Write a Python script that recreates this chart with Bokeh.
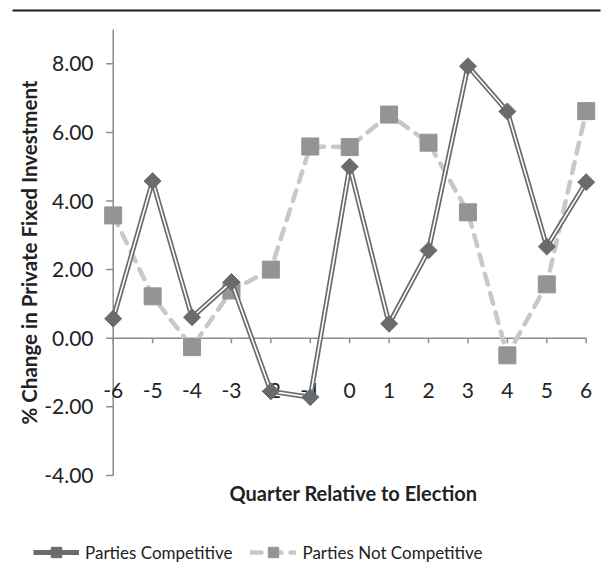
import numpy as np
from bokeh.plotting import figure
from bokeh.models import Legend, LegendItem, ColumnDataSource, Range1d
from bokeh.core.properties import value
from bokeh.embed import file_html
from bokeh.resources import INLINE

quarters = [-6, -5, -4, -3, -2, -1, 0, 1, 2, 3, 4, 5, 6]
quarter_labels = ["-6", "-5", "-4", "-3", "-2", "-1", "0", "1", "2", "3", "4", "5", "6"]
competitive = [0.57, 4.58, 0.61, 1.64, -1.55, -1.72, 5.00, 0.42, 2.56, 7.93, 6.61, 2.67, 4.55]
not_competitive = [3.58, 1.22, -0.26, 1.39, 2.00, 5.59, 5.57, 6.52, 5.70, 3.67, -0.50, 1.57, 6.62]
y_ticks = [-4, -2, 0, 2, 4, 6, 8]
y_tick_labels = ["-4.00", "-2.00", "0.00", "2.00", "4.00", "6.00", "8.00"]
y_title = "% Change in Private Fixed Investment"
x_title = "Quarter Relative to Election"
series_names = ["Parties Competitive", "Parties Not Competitive"]

FONT = "Lato"
TXT = "#222222"
AXIS = "#8c8c8c"
DARK = "#6b6b6d"
SQ = "#949494"
DASH = "#c8c8c8"
W, H = 612, 576

# layout geometry (pixels): plot area mapping
X_LEFT_PX, X_RIGHT_PX = 112.7, 585.7      # positions of first / last quarter
Y_ZERO_PX, PX_PER_Y = 337.7, 34.3         # pixel of value 0, pixels per unit
PX_PER_X = (X_RIGHT_PX - X_LEFT_PX) / (quarters[-1] - quarters[0])


def dx(px):
    return quarters[0] + (px - X_LEFT_PX) / PX_PER_X


def dy(py):
    return (Y_ZERO_PX - py) / PX_PER_Y


p = figure(width=W, height=H, output_backend="svg", toolbar_location=None,
           x_range=Range1d(dx(0), dx(W)), y_range=Range1d(dy(H), dy(0)),
           min_border=0, min_border_left=0, min_border_right=0,
           min_border_top=0, min_border_bottom=0)
p.xaxis.visible = False
p.yaxis.visible = False
p.grid.visible = False
p.outline_line_color = None
p.background_fill_color = "white"
p.border_fill_color = "white"

# top rule
p.segment(x0=[dx(12)], y0=[dy(10)], x1=[dx(600)], y1=[dy(10)], line_color="#1e1e1e", line_width=2)

# y axis
y_top = dy(29)
x0 = quarters[0]
x1 = quarters[-1]
p.segment(x0=[x0], y0=[y_ticks[0]], x1=[x0], y1=[y_top], line_color=AXIS, line_width=1.5)
p.segment(x0=[x0] * len(y_ticks), y0=y_ticks, x1=[dx(X_LEFT_PX - 7)] * len(y_ticks), y1=y_ticks,
          line_color=AXIS, line_width=1.5)
p.text(x=[dx(93)] * len(y_ticks), y=y_ticks, text=y_tick_labels,
       text_font=value(FONT), text_font_size="21px", text_color=TXT,
       text_align="right", text_baseline="middle")
p.text(x=[dx(28)], y=[dy(252)], text=[y_title], angle=np.pi / 2,
       text_font=value(FONT), text_font_style="bold", text_font_size="20.5px",
       text_color=TXT, text_align="center", text_baseline="middle")

# x axis at y = 0
p.segment(x0=[x0], y0=[0], x1=[x1], y1=[0], line_color=AXIS, line_width=1.5)
p.segment(x0=quarters, y0=[0] * len(quarters), x1=quarters, y1=[dy(Y_ZERO_PX + 5)] * len(quarters),
          line_color=AXIS, line_width=1.5)
p.text(x=quarters, y=[dy(390)] * len(quarters), text=quarter_labels,
       text_font=value(FONT), text_font_size="21px", text_color=TXT,
       text_align="center", text_baseline="middle")
p.text(x=[dx(353)], y=[dy(492)], text=[x_title],
       text_font=value(FONT), text_font_style="bold", text_font_size="20px",
       text_color=TXT, text_align="center", text_baseline="middle")

src = ColumnDataSource(dict(x=quarters, c=competitive, n=not_competitive))

# legend swatch markers (smaller, drawn first so the data markers cover them)
lg_ns = p.scatter("x", "n", source=src, marker="square", size=12, fill_color=SQ, line_color=SQ)
lg_cs = p.scatter("x", "c", source=src, marker="square", angle=np.pi / 4, size=8,
                  fill_color=DARK, line_color=DARK)

# not competitive
nl = p.line("x", "n", source=src, line_color=DASH, line_width=4.5,
            line_dash="11 9", line_cap="round")
p.scatter("x", "n", source=src, marker="square", size=17, fill_color=SQ, line_color=SQ)

# competitive (double line)
cl = p.line("x", "c", source=src, line_color=DARK, line_width=5)
p.line("x", "c", source=src, line_color="white", line_width=1.6)
p.scatter("x", "c", source=src, marker="square", angle=np.pi / 4, size=12,
          fill_color=DARK, line_color=DARK)

legend = Legend(items=[LegendItem(label=series_names[0], renderers=[cl, lg_cs]),
                       LegendItem(label=series_names[1], renderers=[nl, lg_ns])],
                orientation="horizontal", location=(33, H - 565),
                label_text_font=FONT, label_text_font_size="17px", label_text_color=TXT,
                glyph_width=46, glyph_height=26, spacing=18, padding=0, margin=0,
                label_standoff=6, border_line_color=None, background_fill_alpha=0)
p.add_layout(legend, "center")

open("out.html", "w").write(file_html(p, INLINE))
